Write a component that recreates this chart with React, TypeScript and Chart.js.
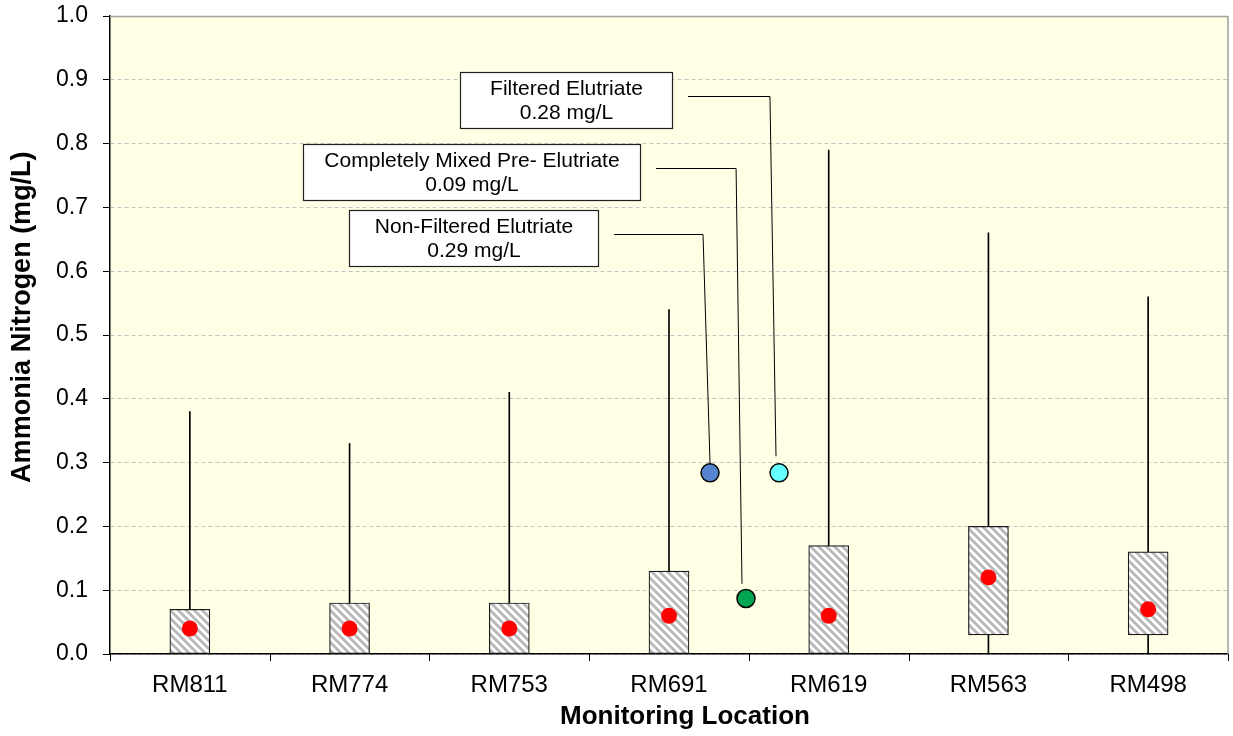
import { useEffect, useRef } from "react";
import { Chart, registerables } from "chart.js";

Chart.register(...registerables);

// ---------- data ----------
const locations = ["RM811", "RM774", "RM753", "RM691", "RM619", "RM563", "RM498"];
const minValues = [0, 0, 0, 0, 0, 0, 0];
const boxLow = [0, 0, 0, 0, 0, 0.03, 0.03];
const boxHigh = [0.07, 0.08, 0.08, 0.13, 0.17, 0.2, 0.16];
const maxValues = [0.38, 0.33, 0.41, 0.54, 0.79, 0.66, 0.56];
const centerValues = [0.04, 0.04, 0.04, 0.06, 0.06, 0.12, 0.07];

const elutriateNames = ["Non-Filtered Elutriate", "Completely Mixed Pre- Elutriate", "Filtered Elutriate"];
const elutriateTexts = ["0.29 mg/L", "0.09 mg/L", "0.28 mg/L"];
const elutriateX = [3.257, 3.482, 3.689];
const elutriateY = [0.284, 0.087, 0.284];

const yTicks = [0, 0.1, 0.2, 0.3, 0.4, 0.5, 0.6, 0.7, 0.8, 0.9, 1.0];

const xTitle = "Monitoring Location";
const yTitle = "Ammonia Nitrogen (mg/L)";

// ---------- layout / styles for callouts (data units) ----------
const calloutLayout = [
  { x1: 0.996, x2: 2.555, yTop: 0.696, yBot: 0.608, lineY: 0.658, startX: 2.656, cornerX: 3.213, endX: 3.257, endY: 0.299 },
  { x1: 0.708, x2: 2.818, yTop: 0.799, yBot: 0.712, lineY: 0.762, startX: 2.919, cornerX: 3.42, endX: 3.457, endY: 0.11 },
  { x1: 1.691, x2: 3.019, yTop: 0.912, yBot: 0.824, lineY: 0.875, startX: 3.119, cornerX: 3.632, endX: 3.67, endY: 0.31 },
];
const elutriateColors = ["#5585CF", "#00A651", "#66FFFF"];
const FONT = '"Liberation Sans", Arial, Helvetica, sans-serif';

function makeHatch(): CanvasPattern | string {
  const c = document.createElement("canvas");
  c.width = 8;
  c.height = 8;
  const g = c.getContext("2d");
  if (!g) return "#ccc";
  g.fillStyle = "#FFFFFF";
  g.fillRect(0, 0, 8, 8);
  g.strokeStyle = "#B8B8B8";
  g.lineWidth = 2.8;
  for (let k = -1; k <= 1; k++) {
    g.beginPath();
    g.moveTo(-2, 8 * k - 2);
    g.lineTo(10, 8 * k + 10);
    g.stroke();
  }
  const p = g.createPattern(c, "repeat");
  return p || "#ccc";
}

const bgPlugin = {
  id: "bg",
  beforeDraw(chart: any) {
    const { ctx, chartArea: a } = chart;
    ctx.save();
    ctx.fillStyle = "#FFFFE6";
    ctx.fillRect(a.left, a.top, a.right - a.left, a.bottom - a.top);
    ctx.restore();
  },
};

const framePlugin = {
  id: "frame",
  afterDraw(chart: any) {
    const { ctx, chartArea: a } = chart;
    const xs = chart.scales.x;
    const ys = chart.scales.y;
    ctx.save();
    ctx.strokeStyle = "#A0A0A0";
    ctx.lineWidth = 1.5;
    ctx.beginPath();
    ctx.moveTo(a.left, a.top + 0.5);
    ctx.lineTo(a.right, a.top + 0.5);
    ctx.lineTo(a.right, a.bottom);
    ctx.stroke();
    // category boundary tick marks
    ctx.strokeStyle = "#000";
    ctx.lineWidth = 1;
    for (let i = 0; i <= locations.length; i++) {
      const px = Math.round(xs.getPixelForValue(i - 0.5)) + 0.5;
      ctx.beginPath();
      ctx.moveTo(px, a.bottom);
      ctx.lineTo(px, a.bottom + 7);
      ctx.stroke();
    }
    // axis titles (placed as in the original, slightly off-centre)
    ctx.fillStyle = "#000";
    ctx.font = `bold 26px ${FONT}`;
    ctx.textAlign = "center";
    ctx.textBaseline = "middle";
    ctx.fillText(xTitle, xs.getPixelForValue(3.1), a.bottom + 63);
    ctx.save();
    ctx.translate(23, ys.getPixelForValue(0.528));
    ctx.rotate(-Math.PI / 2);
    ctx.font = `bold 27px ${FONT}`;
    ctx.fillText(yTitle, 0, 0);
    ctx.restore();
    ctx.restore();
  },
};

const calloutPlugin = {
  id: "callouts",
  afterDatasetsDraw(chart: any) {
    const { ctx } = chart;
    const xs = chart.scales.x;
    const ys = chart.scales.y;
    ctx.save();
    calloutLayout.forEach((L, i) => {
      ctx.strokeStyle = "#000";
      ctx.lineWidth = 1;
      ctx.beginPath();
      const ly = Math.round(ys.getPixelForValue(L.lineY)) + 0.5;
      ctx.moveTo(xs.getPixelForValue(L.startX), ly);
      ctx.lineTo(xs.getPixelForValue(L.cornerX), ly);
      ctx.lineTo(xs.getPixelForValue(L.endX), ys.getPixelForValue(L.endY));
      ctx.stroke();

      const bx1 = Math.round(xs.getPixelForValue(L.x1)) + 0.5;
      const bx2 = Math.round(xs.getPixelForValue(L.x2)) + 0.5;
      const by1 = Math.round(ys.getPixelForValue(L.yTop)) + 0.5;
      const by2 = Math.round(ys.getPixelForValue(L.yBot)) + 0.5;
      ctx.fillStyle = "#FFFFFF";
      ctx.fillRect(bx1, by1, bx2 - bx1, by2 - by1);
      ctx.strokeStyle = "#202020";
      ctx.lineWidth = 1.2;
      ctx.strokeRect(bx1, by1, bx2 - bx1, by2 - by1);

      ctx.fillStyle = "#000";
      ctx.font = `21px ${FONT}`;
      ctx.textAlign = "center";
      ctx.textBaseline = "middle";
      const cx = (bx1 + bx2) / 2;
      const h = by2 - by1;
      ctx.fillText(elutriateNames[i], cx, by1 + h * 0.3);
      ctx.fillText(elutriateTexts[i], cx, by1 + h * 0.73);
    });
    ctx.restore();
  },
};

export default function App() {
  const ref = useRef<HTMLCanvasElement | null>(null);

  useEffect(() => {
    if (!ref.current) return;
    const hatch = makeHatch();
    const chart = new Chart(ref.current, {
      type: "bar",
      data: {
        datasets: [
          {
            type: "scatter",
            label: "Median",
            data: locations.map((_, i) => ({ x: i, y: centerValues[i] })),
            pointRadius: 8,
            pointBackgroundColor: "#FF0000",
            pointBorderWidth: 0,
            borderWidth: 0,
            order: 0,
          } as any,
          {
            type: "scatter",
            label: "Elutriate",
            data: elutriateX.map((x, i) => ({ x, y: elutriateY[i] })),
            pointRadius: 9,
            pointBackgroundColor: elutriateColors,
            pointBorderColor: "#000",
            pointBorderWidth: 1.5,
            order: 1,
          } as any,
          {
            type: "bar",
            label: "Box",
            data: locations.map((_, i) => ({ x: i, y: [boxLow[i], boxHigh[i]] })),
            backgroundColor: hatch,
            borderColor: "#1A1A1A",
            borderWidth: 1.2,
            borderSkipped: false,
            barThickness: 40,
            grouped: false,
            order: 2,
          } as any,
          {
            type: "bar",
            label: "Range",
            data: locations.map((_, i) => ({ x: i, y: [minValues[i], maxValues[i]] })),
            backgroundColor: "#000",
            borderWidth: 0,
            barThickness: 1,
            grouped: false,
            order: 3,
          } as any,
        ],
      },
      options: {
        animation: false,
        responsive: false,
        events: [],
        layout: { autoPadding: false, padding: { top: 16, right: 5, left: 0, bottom: 0 } },
        plugins: { legend: { display: false }, tooltip: { enabled: false } },
        scales: {
          x: {
            type: "linear",
            offset: false,
            min: -0.5,
            max: locations.length - 0.5,
            afterBuildTicks: (s: any) => {
              s.ticks = locations.map((_, i) => ({ value: i }));
            },
            afterFit: (s: any) => {
              s.height = 82;
              s.paddingLeft = 0;
              s.paddingRight = 0;
            },
            ticks: {
              autoSkip: false,
              maxRotation: 0,
              padding: 17,
              color: "#000",
              font: { family: FONT, size: 24 },
              callback: (v: any) => locations[Math.round(Number(v))] ?? "",
            },
            grid: { display: false, drawTicks: false },
            border: { display: true, color: "#000", width: 1.5 },
          },
          y: {
            type: "linear",
            min: 0,
            max: 1,
            afterBuildTicks: (s: any) => {
              s.ticks = yTicks.map((v) => ({ value: v }));
            },
            afterFit: (s: any) => {
              s.width = 110;
              s.paddingTop = 0;
              s.paddingBottom = 0;
            },
            ticks: {
              padding: 15,
              color: "#000",
              font: { family: FONT, size: 23 },
              callback: (v: any) => Number(v).toFixed(1),
            },
            grid: {
              color: "#C4C4C4",
              lineWidth: 1,
              tickLength: 7,
              tickColor: "#000",
              tickBorderDash: [100, 0],
            },
            border: { display: true, color: "#000", width: 1.5, dash: [4, 3] },
          },
        },
      } as any,
      plugins: [bgPlugin, framePlugin, calloutPlugin],
    });
    return () => chart.destroy();
  }, []);

  return (
    <div style={{ position: "fixed", left: 0, top: 0, width: 1233, height: 736, background: "#fff" }}>
      <canvas ref={ref} width={1233} height={736} />
    </div>
  );
}
